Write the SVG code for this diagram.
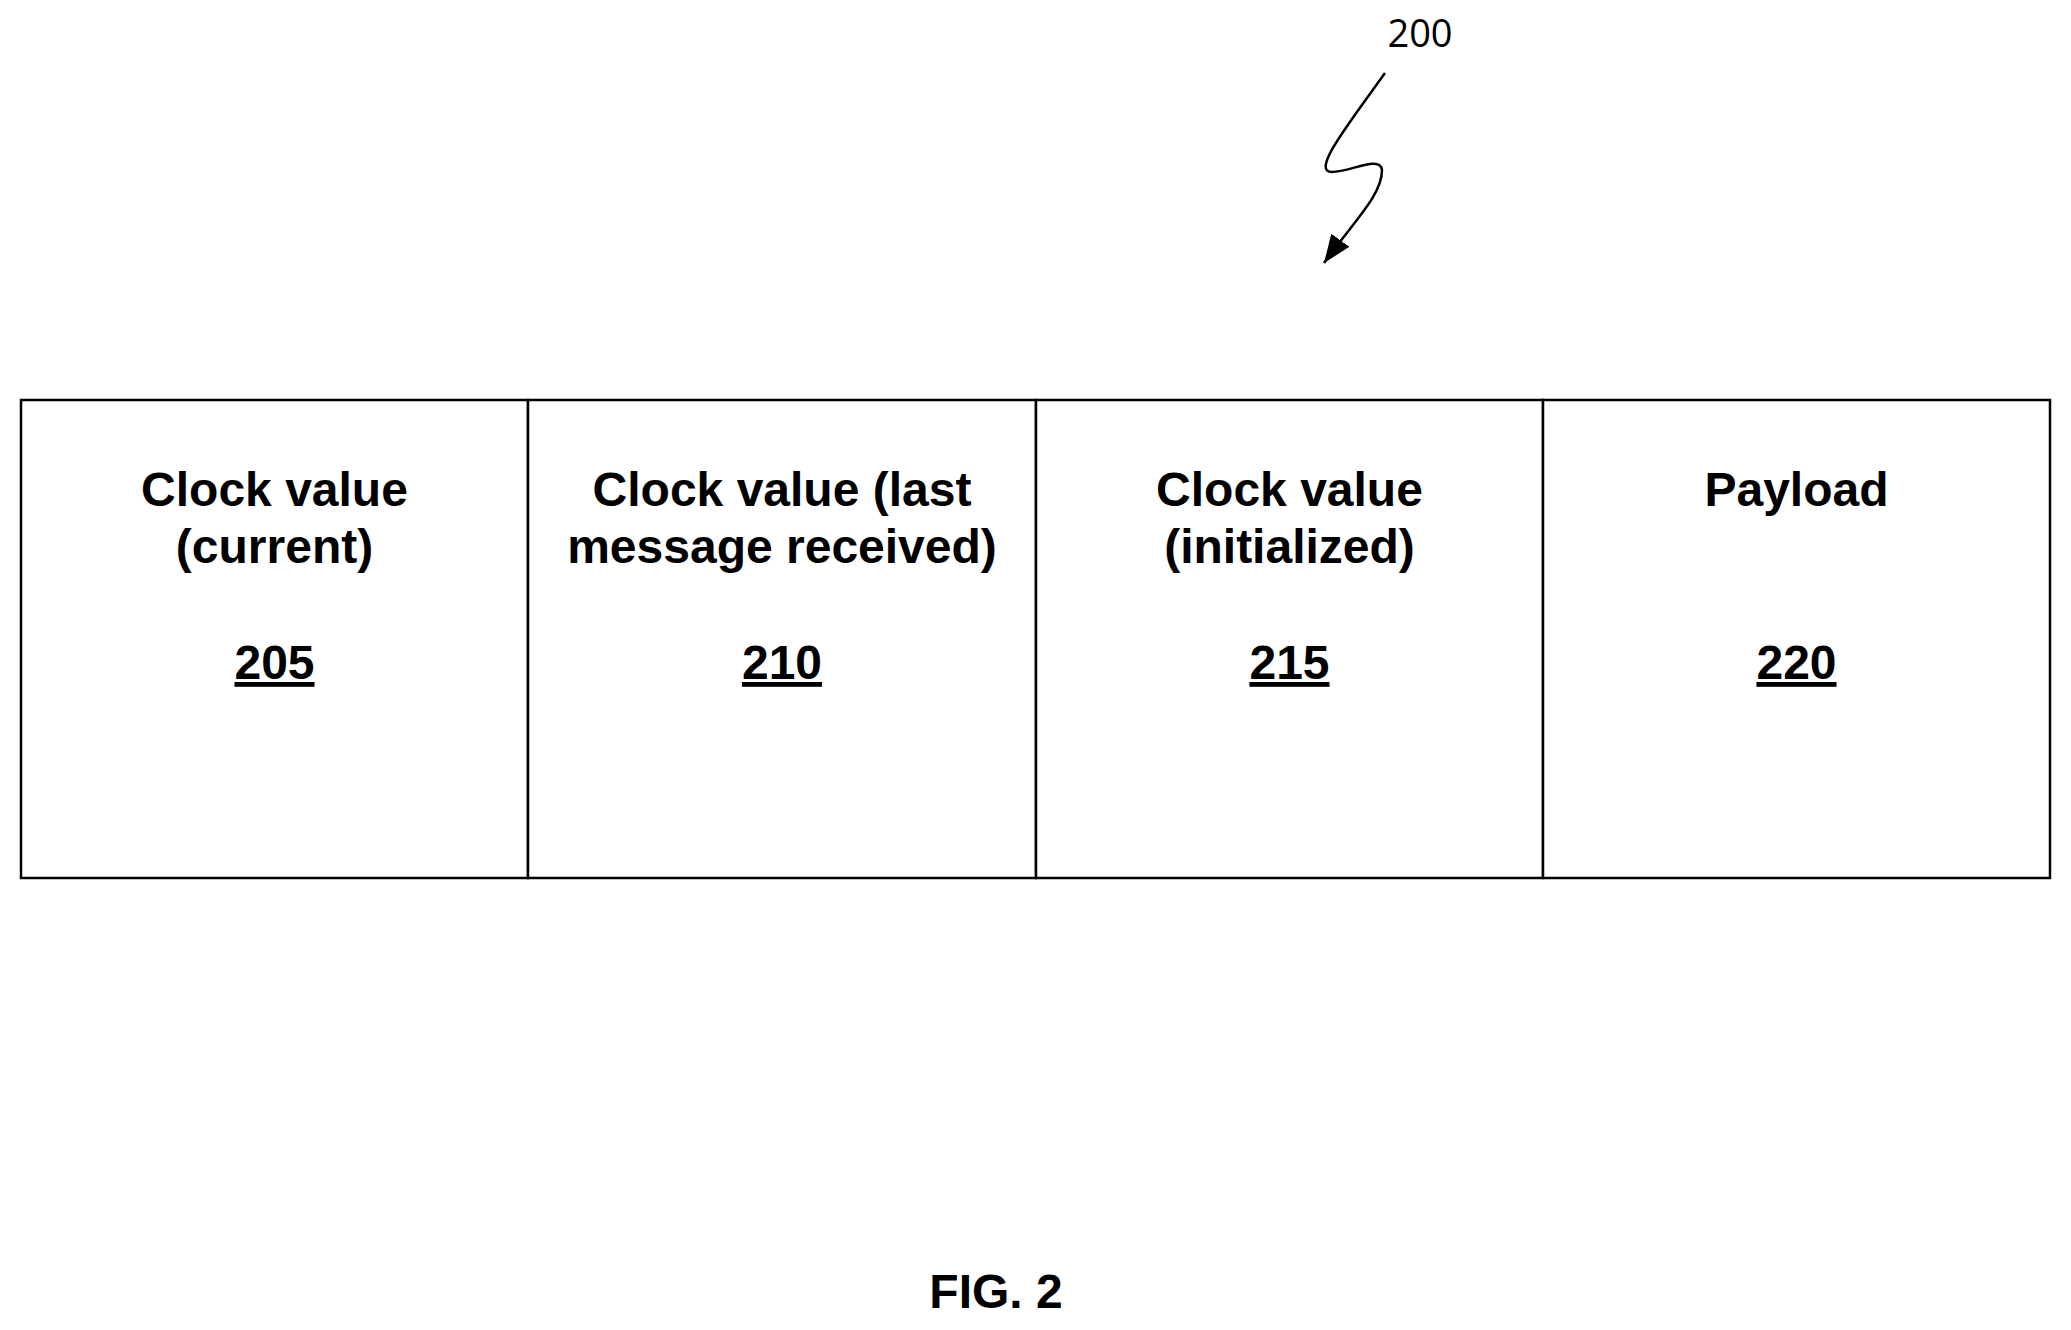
<svg xmlns="http://www.w3.org/2000/svg" width="2071" height="1330" viewBox="0 0 2071 1330">
<style>
.t{font-family:"Liberation Sans",Arial,sans-serif;font-weight:bold;font-size:48px;text-anchor:middle;fill:#000}
.n{text-decoration:underline}
.c{fill:#fff;stroke:#000;stroke-width:2.5}
</style>
<defs><marker id="ah" markerWidth="10" markerHeight="10" refX="9" refY="5" orient="auto" markerUnits="userSpaceOnUse" viewBox="0 0 10 10"><path d="M0,0 L10,5 L0,10 z" transform="scale(1)"/></marker>
<marker id="a2" viewBox="0 0 10 10" refX="10" refY="5" markerWidth="28" markerHeight="28" markerUnits="userSpaceOnUse" orient="auto"><path d="M0,1 L10,5 L0,9 z"/></marker></defs>
<rect width="2071" height="1330" fill="#fff"/>
<g id="n205"><rect class="c" x="21" y="400" width="507" height="478"/><text class="t" x="274.5" y="506">Clock value</text><text class="t" x="274.5" y="563">(current)</text><text class="t n" x="274.5" y="679">205</text></g>
<g id="n210"><rect class="c" x="528" y="400" width="508" height="478"/><text class="t" x="782" y="506">Clock value (last</text><text class="t" x="782" y="563">message received)</text><text class="t n" x="782" y="679">210</text></g>
<g id="n215"><rect class="c" x="1036" y="400" width="507" height="478"/><text class="t" x="1289.5" y="506">Clock value</text><text class="t" x="1289.5" y="563">(initialized)</text><text class="t n" x="1289.5" y="679">215</text></g>
<g id="n220"><rect class="c" x="1543" y="400" width="507" height="478"/><text class="t" x="1796.5" y="506">Payload</text><text class="t n" x="1796.5" y="679">220</text></g>
<g id="connectors"><path d="M1385,73 C1350,122 1310,172 1332,172 C1350,172 1380,155 1382,170 C1382,195 1355,220 1324,263" fill="none" stroke="#000" stroke-width="2.5" marker-end="url(#a2)"/></g>
<text x="1420" y="47" font-family="'Open Sans',sans-serif" font-size="38" text-anchor="middle">200</text>
<text class="t" x="996" y="1308" font-size="46">FIG. 2</text>
</svg>
